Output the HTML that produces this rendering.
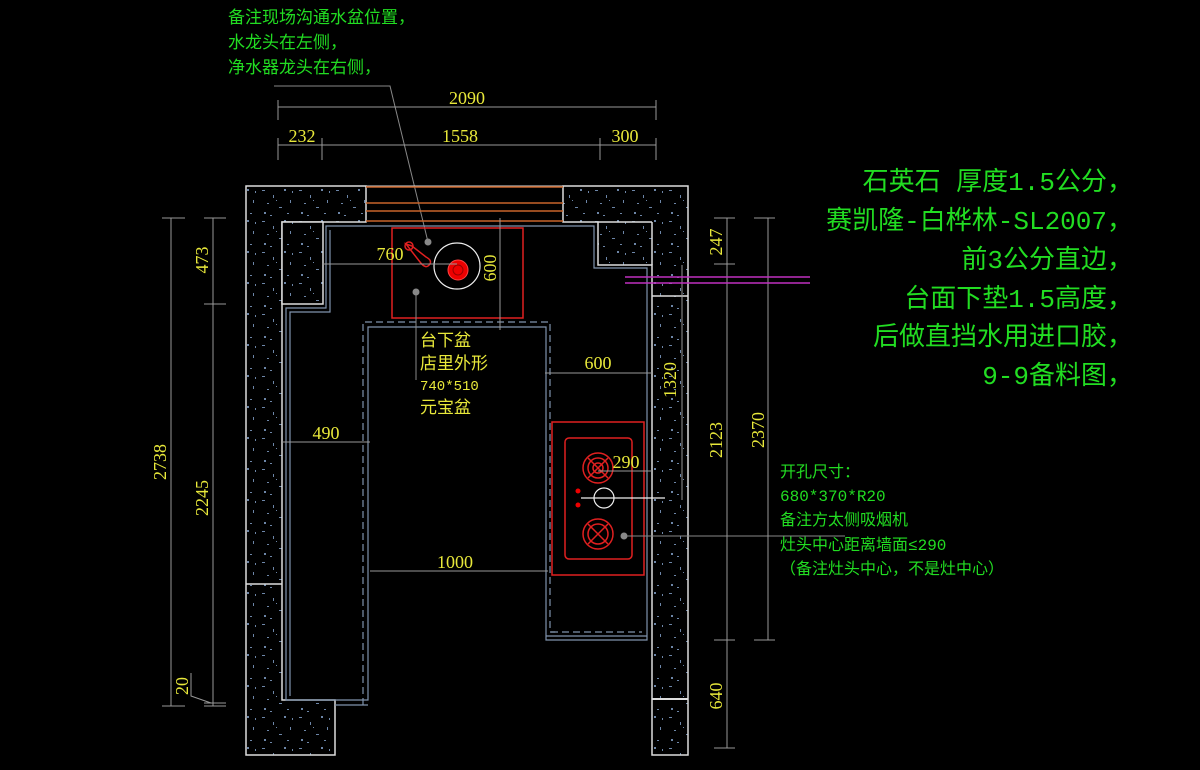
<!DOCTYPE html>
<html><head><meta charset="utf-8"><style>
html,body{margin:0;padding:0;background:#000;}
svg{display:block;}
text{font-family:"Liberation Mono","Noto Sans CJK SC",monospace;}
.y{fill:#e8e83a;font-size:18px;font-family:"Liberation Serif","Noto Sans CJK SC",serif;}
.yc{fill:#e8e83a;font-size:17px;font-family:"Liberation Mono","Noto Sans CJK SC",monospace;}
.g{fill:#22dd22;}
</style></head><body>
<svg width="1200" height="770" viewBox="0 0 1200 770" xmlns="http://www.w3.org/2000/svg">
<defs>
<pattern id="stone" width="37" height="31" patternUnits="userSpaceOnUse">
<rect width="37" height="31" fill="#000"/>
<g fill="#6d86a8">
<rect x="3" y="4" width="3" height="1"/><rect x="14" y="9" width="1" height="3"/><rect x="25" y="3" width="2" height="2"/>
<rect x="8" y="17" width="2" height="1"/><rect x="20" y="21" width="3" height="1"/><rect x="31" y="14" width="1" height="3"/>
<rect x="5" y="26" width="2" height="2"/><rect x="28" y="27" width="2" height="1"/><rect x="17" y="14" width="1" height="1"/>
<rect x="33" y="5" width="1" height="2"/><rect x="11" y="29" width="2" height="1"/>
</g>
</pattern>
</defs>
<rect width="1200" height="770" fill="#000"/>

<g class="g" font-size="17">
<text x="228" y="23">备注现场沟通水盆位置，</text>
<text x="228" y="48">水龙头在左侧，</text>
<text x="228" y="73">净水器龙头在右侧，</text>
</g>
<polyline points="274,86 390,86 428,242" fill="none" stroke="#888" stroke-width="1"/>
<circle cx="428" cy="242" r="3.5" fill="#888"/>

<g stroke="#999" stroke-width="1" fill="none">
<line x1="278" y1="107" x2="656" y2="107"/>
<line x1="278" y1="100" x2="278" y2="120"/><line x1="656" y1="100" x2="656" y2="120"/>
<line x1="278" y1="145" x2="656" y2="145"/>
<line x1="278" y1="138" x2="278" y2="160"/><line x1="322" y1="138" x2="322" y2="160"/>
<line x1="600" y1="138" x2="600" y2="160"/><line x1="656" y1="138" x2="656" y2="160"/>
</g>
<text class="y" x="467" y="104" text-anchor="middle">2090</text>
<text class="y" x="302" y="142" text-anchor="middle">232</text>
<text class="y" x="460" y="142" text-anchor="middle">1558</text>
<text class="y" x="625" y="142" text-anchor="middle">300</text>

<path d="M246,186 H366 V222 H282 V700 H335 V755 H246 Z" fill="url(#stone)" stroke="#ddd" stroke-width="1.5"/>
<path d="M282,222 H323 V304 H282 Z" fill="url(#stone)" stroke="#ddd" stroke-width="1.5"/>
<line x1="246" y1="584" x2="282" y2="584" stroke="#ddd" stroke-width="1.5"/>
<path d="M563,186 H688 V755 H652 V265 H598 V222 H563 Z" fill="url(#stone)" stroke="#ddd" stroke-width="1.5"/>
<line x1="598" y1="222" x2="652" y2="222" stroke="#ddd" stroke-width="1.5"/>
<line x1="652" y1="222" x2="652" y2="265" stroke="#ddd" stroke-width="1.5"/>
<line x1="652" y1="296" x2="688" y2="296" stroke="#ddd" stroke-width="1.5"/>
<line x1="652" y1="699" x2="688" y2="699" stroke="#ddd" stroke-width="2"/>
<line x1="246" y1="186" x2="688" y2="186" stroke="#ddd" stroke-width="1"/>

<g stroke="#c8642a" stroke-width="1.5">
<line x1="366" y1="187" x2="563" y2="187"/>
<line x1="366" y1="203" x2="563" y2="203"/>
<line x1="366" y1="211" x2="563" y2="211"/>
<line x1="366" y1="221" x2="563" y2="221"/>
</g>

<g stroke="#7f93ad" stroke-width="1.2" fill="none">
<path d="M286,700 V308 H326 V226 H594 V268 H647 V640 H546 V327 H368 V700 Z"/>
<path d="M290,696 V312 H330 V230"/>
<path d="M363,705 V322 H550 V632 H555" stroke-dasharray="7,4"/>
<line x1="335" y1="705" x2="368" y2="705"/>
<line x1="551" y1="632" x2="642" y2="632" stroke-dasharray="7,4"/>
<line x1="546" y1="636" x2="647" y2="636"/>
</g>

<rect x="392" y="228" width="131" height="90" fill="none" stroke="#e02020" stroke-width="1.5"/>
<circle cx="457" cy="266" r="23" fill="none" stroke="#eee" stroke-width="1.2"/>
<circle cx="458" cy="270" r="10" fill="#e00" stroke="#f44" stroke-width="1"/>
<circle cx="458" cy="270" r="5" fill="none" stroke="#900" stroke-width="1"/>
<path d="M406,244 L420,262 Q426,270 430,264 Q432,260 426,257 L412,246 Z" fill="none" stroke="#e02020" stroke-width="1.5"/>
<circle cx="409" cy="246" r="4" fill="none" stroke="#e02020" stroke-width="1.5"/>
<circle cx="416" cy="292" r="3.5" fill="#888"/>
<line x1="416" y1="292" x2="416" y2="380" stroke="#888"/>

<rect x="552" y="422" width="92" height="153" fill="none" stroke="#e02020" stroke-width="1.5"/>
<rect x="565" y="438" width="67" height="121" rx="4" fill="none" stroke="#e02020" stroke-width="1.5"/>
<g fill="none" stroke="#e02020" stroke-width="1.5">
<circle cx="598" cy="468" r="15"/><circle cx="598" cy="468" r="10"/><circle cx="598" cy="468" r="5"/>
<line x1="588" y1="458" x2="608" y2="478"/><line x1="608" y1="458" x2="588" y2="478"/>
<circle cx="598" cy="534" r="15"/><circle cx="598" cy="534" r="10"/>
<line x1="588" y1="524" x2="608" y2="544"/><line x1="608" y1="524" x2="588" y2="544"/>
</g>
<circle cx="578" cy="491" r="2.5" fill="#e00"/><circle cx="578" cy="505" r="2.5" fill="#e00"/>
<circle cx="604" cy="498" r="10" fill="none" stroke="#eee" stroke-width="1.2"/>
<line x1="581" y1="498" x2="665" y2="498" stroke="#eee" stroke-width="1.2"/>
<circle cx="624" cy="536" r="3.5" fill="#888"/>
<line x1="624" y1="536" x2="845" y2="536" stroke="#888"/>

<g stroke="#999" stroke-width="1" fill="none">
<line x1="322" y1="264" x2="457" y2="264"/>
<line x1="500" y1="218" x2="500" y2="330"/>
<line x1="545" y1="373" x2="652" y2="373"/>
<line x1="682" y1="265" x2="682" y2="500"/>
<line x1="282" y1="442" x2="370" y2="442"/>
<line x1="370" y1="571" x2="548" y2="571"/>
<line x1="598" y1="471" x2="652" y2="471"/>
</g>
<text class="y" x="390" y="260" text-anchor="middle">760</text>
<text class="y" transform="translate(496,268) rotate(-90)" text-anchor="middle">600</text>
<text class="y" x="598" y="369" text-anchor="middle">600</text>
<text class="y" transform="translate(676,380) rotate(-90)" text-anchor="middle">1320</text>
<text class="y" x="326" y="439" text-anchor="middle">490</text>
<text class="y" x="455" y="568" text-anchor="middle">1000</text>
<text class="y" x="626" y="468" text-anchor="middle">290</text>
<g class="yc">
<text x="420" y="346">台下盆</text>
<text x="420" y="369">店里外形</text>
<text x="420" y="390" font-size="14">740*510</text>
<text x="420" y="413">元宝盆</text>
</g>

<g stroke="#999" stroke-width="1" fill="none">
<line x1="171" y1="218" x2="171" y2="706"/>
<line x1="162" y1="218" x2="185" y2="218"/><line x1="162" y1="706" x2="185" y2="706"/>
<line x1="213" y1="218" x2="213" y2="706"/>
<line x1="204" y1="218" x2="226" y2="218"/><line x1="204" y1="304" x2="226" y2="304"/>
<line x1="204" y1="706" x2="226" y2="706"/><line x1="204" y1="703" x2="226" y2="703"/>
<polyline points="191,673 191,696 211,703"/>
</g>
<text class="y" transform="translate(166,462) rotate(-90)" text-anchor="middle">2738</text>
<text class="y" transform="translate(208,260) rotate(-90)" text-anchor="middle">473</text>
<text class="y" transform="translate(208,498) rotate(-90)" text-anchor="middle">2245</text>
<text class="y" transform="translate(188,686) rotate(-90)" text-anchor="middle">20</text>

<g stroke="#999" stroke-width="1" fill="none">
<line x1="727" y1="218" x2="727" y2="748"/>
<line x1="714" y1="218" x2="735" y2="218"/><line x1="714" y1="264" x2="735" y2="264"/>
<line x1="714" y1="640" x2="735" y2="640"/><line x1="714" y1="748" x2="735" y2="748"/>
<line x1="768" y1="218" x2="768" y2="640"/>
<line x1="754" y1="218" x2="775" y2="218"/><line x1="754" y1="640" x2="775" y2="640"/>
</g>
<text class="y" transform="translate(722,242) rotate(-90)" text-anchor="middle">247</text>
<text class="y" transform="translate(722,440) rotate(-90)" text-anchor="middle">2123</text>
<text class="y" transform="translate(722,696) rotate(-90)" text-anchor="middle">640</text>
<text class="y" transform="translate(764,430) rotate(-90)" text-anchor="middle">2370</text>

<line x1="625" y1="277" x2="810" y2="277" stroke="#c030c0" stroke-width="1.5"/>
<line x1="625" y1="283" x2="810" y2="283" stroke="#c030c0" stroke-width="1.5"/>

<g class="g" font-size="26" text-anchor="end">
<text x="1133" y="190">石英石 厚度1.5公分，</text>
<text x="1133" y="229">赛凯隆-白桦林-SL2007，</text>
<text x="1133" y="268">前3公分直边，</text>
<text x="1133" y="307">台面下垫1.5高度，</text>
<text x="1133" y="345">后做直挡水用进口胶，</text>
<text x="1133" y="384">9-9备料图，</text>
</g>
<g class="g" font-size="16">
<text x="780" y="477">开孔尺寸：</text>
<text x="780" y="501">680*370*R20</text>
<text x="780" y="525">备注方太侧吸烟机</text>
<text x="780" y="550">灶头中心距离墙面≤290</text>
<text x="780" y="574">（备注灶头中心，不是灶中心）</text>
</g>
</svg>
</body></html>
